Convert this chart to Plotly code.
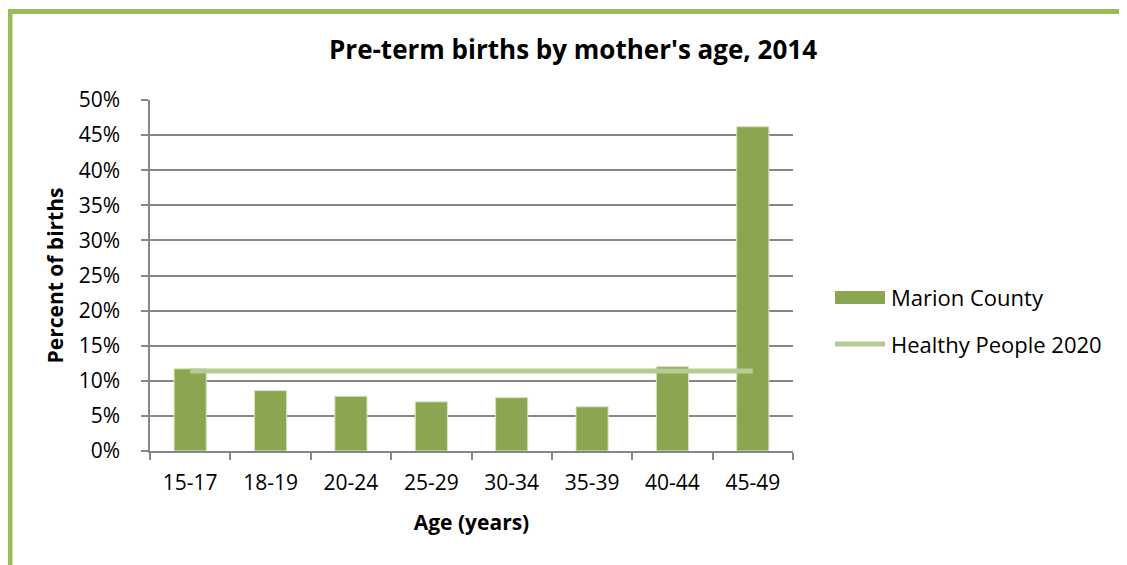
import plotly.graph_objects as go

ages = ["15-17", "18-19", "20-24", "25-29", "30-34", "35-39", "40-44", "45-49"]
marion = [11.7, 8.6, 7.8, 7.0, 7.6, 6.3, 12.0, 46.2]
healthy_people = [11.4, 11.4, 11.4, 11.4, 11.4, 11.4, 11.4, 11.4]
y_ticks = [0, 5, 10, 15, 20, 25, 30, 35, 40, 45, 50]
y_tick_labels = ["0%", "5%", "10%", "15%", "20%", "25%", "30%", "35%", "40%", "45%", "50%"]
series_names = ["Marion County", "Healthy People 2020"]

W, H = 1127, 565
OFF = 8  # page body margin
pw, ph = 643, 351
L, T = 150 - OFF, 100 - OFF
R, B = W - L - pw, H - T - ph

def px(x):
    return (x - OFF - L) / pw

def py(y):
    return (T + ph - (y - OFF)) / ph

font = "'Open Sans', sans-serif"
grid = "#868686"
bar_col = "#8BA650"
line_col = "#B7CC94"

fig = go.Figure()
fig.add_trace(go.Bar(
    x=ages, y=marion, name=series_names[0],
    marker=dict(color=bar_col, line=dict(color="#D7E4BD", width=1)),
    showlegend=False,
))
fig.add_trace(go.Scatter(
    x=ages, y=healthy_people, name=series_names[1], mode="lines",
    line=dict(color=line_col, width=5),
    showlegend=False,
))

shapes = [
    dict(type="rect", xref="paper", yref="paper", layer="below",
         x0=px(10), x1=px(1200), y0=py(650), y1=py(11.5),
         line=dict(color="#9BBB59", width=5), fillcolor="rgba(0,0,0,0)"),
    # legend keys
    dict(type="rect", xref="paper", yref="paper",
         x0=px(835), x1=px(885), y0=py(304), y1=py(291),
         line=dict(width=0), fillcolor=bar_col),
    dict(type="line", xref="paper", yref="paper",
         x0=px(835), x1=px(885), y0=py(344), y1=py(344),
         line=dict(color=line_col, width=5)),
]
annotations = [
    dict(text=series_names[0], xref="paper", yref="paper", x=px(889), y=py(297),
         xanchor="left", yanchor="middle", showarrow=False,
         font=dict(size=22, family=font, color="#000")),
    dict(text=series_names[1], xref="paper", yref="paper", x=px(889), y=py(344),
         xanchor="left", yanchor="middle", showarrow=False,
         font=dict(size=22, family=font, color="#000")),
]

fig.update_layout(
    width=W, height=H,
    margin=dict(l=L, r=R, t=T, b=B, autoexpand=False),
    paper_bgcolor="white", plot_bgcolor="white",
    bargap=0.6,
    font=dict(family=font, size=21, color="#000000"),
    title=dict(text="<b>Pre-term births by mother's age, 2014</b>",
               x=px(573), xref="paper", xanchor="center",
               y=1 - (50 - OFF) / H, yanchor="middle",
               font=dict(size=26, family=font)),
    showlegend=False,
    xaxis=dict(
        title=dict(text="<b>Age (years)</b>", font=dict(size=21), standoff=20),
        showline=True, linecolor=grid, linewidth=1.5,
        ticks="outside", ticklen=7, tickcolor=grid, tickwidth=1.5,
        tickson="boundaries", showgrid=False, automargin=False,
        tickfont=dict(size=21), ticklabelstandoff=12,
    ),
    yaxis=dict(
        title=dict(text="<b>Percent of births</b>", font=dict(size=21), standoff=9),
        range=[0, 50], tickmode="array", tickvals=y_ticks, ticktext=y_tick_labels,
        showline=True, linecolor=grid, linewidth=1.5,
        ticks="outside", ticklen=7, tickcolor=grid, tickwidth=1.5,
        showgrid=True, gridcolor=grid, gridwidth=1.5, zeroline=False,
        automargin=False, tickfont=dict(size=21), ticklabelstandoff=17,
    ),
    shapes=shapes,
    annotations=annotations,
)

fig.write_html("out.html")
